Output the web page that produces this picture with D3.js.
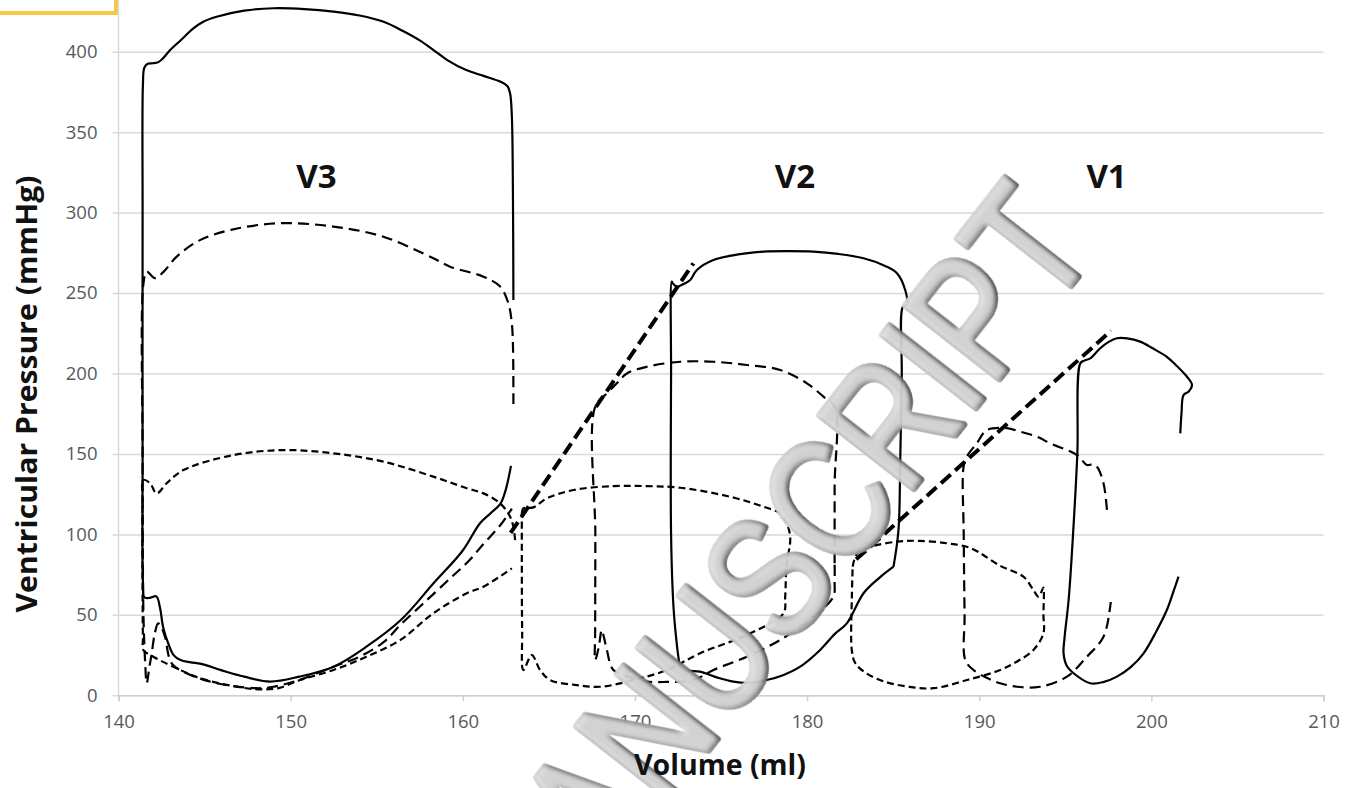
<!DOCTYPE html>
<html><head><meta charset="utf-8">
<script src="https://cdn.jsdelivr.net/npm/d3@7"></script>
<style>html,body{margin:0;padding:0;background:#fff;}svg{display:block;}</style>
</head><body>
<svg id="chart" width="1359" height="788"></svg>
<script>
// ---------- data (volume ml, pressure mmHg) ----------
const xTicks = [140,150,160,170,180,190,200,210];
const yTicks = [0,50,100,150,200,250,300,350,400];
const loopLabels = ["V3","V2","V1"];
const loopLabelPos = [[151.5,315.3],[179.3,315.3],[197.4,315.3]];

// V3 loops
const v3Solid = [[162.94,245.7],[162.92,300],[162.85,360],[162.75,374],[162.6,378.5],[162.2,381.3],[161.2,385],[160.2,388.6],[159.1,394.8],[158.3,401],[157.5,407],[156.5,413],[155.4,418.6],[154,422.5],[152.5,424.9],[150.8,426.5],[149,427],[147.3,425.5],[145.7,421.7],[144.9,418.5],[144.35,414.5],[143.6,407],[143,401],[142.5,395],[142.3,393.5],[142.0,392.8],[141.7,392.5],[141.5,390],[141.42,380],[141.4,300],[141.4,150],[141.42,70],[141.5,61],[141.8,60.5],[142.2,61.5],[142.4,55],[142.6,42],[142.9,32],[143.2,25],[143.6,21.9],[144.2,20.5],[144.8,19.5],[146,15.5],[147.3,11.6],[148.8,8.5],[150.5,11.6],[152.5,17.8],[154.4,30.2],[156.4,46.8],[158.3,69.6],[160,90],[161,106.9],[161.6,113],[162.2,119.3],[162.5,128],[162.8,142.6]];
const v3Long = [[162.94,181],[162.92,215],[162.85,231],[162.65,243.6],[162.17,254],[161.2,260.2],[159.26,266.4],[158.29,271.6],[155.39,285],[152.48,291.3],[149.4,293.4],[146.67,289.6],[144.73,282.9],[143.38,272.6],[142.6,263],[142.12,259.2],[141.64,263.3],[141.45,256],[141.4,150],[141.45,50],[141.55,20],[141.64,7.5],[141.8,18],[141.93,26],[142.1,38],[142.3,44.7],[142.5,42],[142.7,36.4],[143.09,19.9],[143.96,13.7],[145.7,7.5],[148.03,4.4],[149,5.3],[150.5,9.5],[152.48,17.8],[154,24],[155.4,33],[156.4,44],[157.8,58],[159.3,73],[160.3,83],[161.2,94],[162.2,106],[162.85,116]];
const v3Short = [[163.04,96.5],[162.95,104],[162.75,111],[162.17,119.3],[161.2,125.5],[160.23,128.7],[158.29,135.9],[155.39,145.2],[152.48,150.4],[149.58,152.4],[146.67,149.3],[143.77,140],[142.8,131.8],[142.22,125.5],[141.83,131.8],[141.44,133.8],[141.4,120],[141.4,60],[141.42,35],[141.44,28.2],[142.02,24],[143.38,16.8],[144.73,10.6],[147.06,5],[148.22,3.7],[149.3,4.5],[150.55,9.5],[152.48,15.7],[154.4,24],[156.36,34.3],[158.29,51],[160.23,63.4],[161.2,67.5],[162.85,78.9]];

// V2 loops
const v2Solid = [[185.02,79.9],[185.31,102.7],[185.41,144.2],[185.5,200],[185.57,241.5],[185.8,242.6],[185.7,251.9],[185.22,262.3],[184.5,267],[183.28,271.6],[181.8,274.3],[180.37,275.7],[178.9,276],[177.47,275.7],[176,274],[174.56,270.5],[173.6,264.3],[173.21,258.1],[172.8,255.5],[172.43,254],[172.2,256],[172.14,257.1],[172.1,200],[172.1,100],[172.24,55],[172.4,35],[172.55,22],[172.63,17.8],[173.0,15.5],[173.78,14.7],[174.8,11],[175.72,8.5],[176.7,7.8],[177.66,9.5],[178.6,12.5],[179.6,17.8],[180.76,28.2],[181.6,38],[182.31,44.7],[183.28,63.4],[184.2,73],[185.02,79.9]];
const v2Long = [[181.6,82],[181.6,130],[181.6,179.4],[180.95,185.6],[179.99,193.9],[178.44,202.2],[176.5,205.3],[174.56,207.3],[172.63,207.3],[170.69,204.2],[169.53,200],[168.95,193.9],[168.37,187.7],[167.69,179.4],[167.7,100],[167.69,40],[167.69,21.9],[167.9,30],[168.07,40.6],[168.2,36],[168.37,28.2],[168.75,15.7],[169.8,11],[170.69,8.5],[171.8,8.3],[173.4,9.5],[174.56,15.7],[176.5,24],[178.44,34.4],[180.37,48.9],[181.53,61.3],[181.6,70],[181.6,82]];
const v2Short = [[163.43,113.1],[163.52,116.2],[164.1,116.8],[164.88,122.4],[166.43,127.6],[168.75,130],[170.69,130],[172.63,129],[175.53,123.4],[177.47,117.2],[178.44,113.1],[178.73,109],[179.02,98.6],[178.8,80],[178.73,61.3],[178.63,51],[176.7,38.5],[173.79,26.1],[171.85,15.7],[169.92,9.5],[167.98,5.3],[166.5,6.5],[165.07,9.5],[164.49,15.7],[164.01,25],[163.52,15.7],[163.45,40],[163.43,80],[163.43,113.1]];

// V1 loops
const v1Solid = [[201.68,162.8],[201.75,175],[201.87,186.6],[202.16,188.7],[202.36,192.9],[202.07,198],[201.5,204.5],[200.9,210.4],[200.1,215.5],[199.35,219.8],[198.6,221.8],[198.0,221.9],[197.5,219.5],[197.03,215.7],[196.45,209.4],[196.1,208],[195.87,206.3],[195.7,150],[195.45,100],[195.2,60],[194.95,35],[194.9,26.1],[195.1,18],[195.48,13.7],[196.45,7.5],[197.2,8.2],[198.0,11.6],[198.8,17.5],[199.55,26.1],[200.3,40],[200.9,53],[201.3,65],[201.58,73.7]];
const v1Long = [[197.42,115.2],[197.22,131.8],[196.84,142.1],[196.6,143.5],[196.26,143.1],[195.68,149.3],[194.13,156.6],[193.35,160.7],[192.39,163.8],[191.61,166],[190.45,164.9],[189.86,156.6],[189.28,148.3],[189.09,142],[189.1,100],[189.15,50],[189.19,21.9],[189.67,15.7],[190.4,11],[191.22,7.5],[192.19,5.3],[193.53,5.3],[195.1,11.6],[196.26,24],[197.22,36.4],[197.61,55.1],[197.64,58]];
const v1Short = [[182.65,80],[182.9,88],[183.6,92],[185.22,95.5],[186.5,96],[188.12,94.5],[189.5,91.5],[191.22,80.5],[192.57,73.7],[193.15,65.4],[193.44,61.3],[193.6,64],[193.73,67],[193.73,50],[193.73,38.5],[193.15,28.2],[192.2,21],[191.22,15.7],[189.29,9.5],[187.35,4.4],[185.9,5.3],[184.5,8.5],[183.4,14],[182.8,20],[182.6,28],[182.6,60],[182.65,80]];

// end-systolic lines
const espvrA = [[162.78,101],[173.4,268.5]];
const espvrB = [[182.85,84.5],[197.65,226.5]];

const solidSeries = [v3Solid, v2Solid, v1Solid];
const longDashSeries = [v3Long, v2Long, v1Long];
const shortDashSeries = [v3Short, v2Short, v1Short];
const espvrSeries = [espvrA, espvrB];

// ---------- drawing ----------
const svg = d3.select("#chart");
const x = d3.scaleLinear().domain([140,210]).range([118.5,1323.5]);
const y = d3.scaleLinear().domain([0,400]).range([695.3,51.7]);
const grid = "#d9d9d9";
const tickFont = "'Open Sans', 'Liberation Sans', sans-serif";

// bevel filter for the watermark
const defs = svg.append("defs");
const f = defs.append("filter").attr("id","bevel").attr("x","-10%").attr("y","-10%").attr("width","120%").attr("height","120%");
f.append("feGaussianBlur").attr("in","SourceAlpha").attr("stdDeviation",3.5).attr("result","blur");
const dl = f.append("feDiffuseLighting").attr("in","blur").attr("surfaceScale",6)
  .attr("diffuseConstant",1).attr("lighting-color","#ffffff").attr("result","light");
dl.append("feDistantLight").attr("azimuth",225).attr("elevation",60);
f.append("feComposite").attr("in","SourceGraphic").attr("in2","light").attr("operator","arithmetic")
  .attr("k1",1).attr("k2",0).attr("k3",0).attr("k4",0).attr("result","shaded");
f.append("feComposite").attr("in","shaded").attr("in2","SourceAlpha").attr("operator","in");

// yellow frame fragment top-left
svg.append("rect").attr("x",-4).attr("y",-4).attr("width",120).attr("height",17)
  .attr("fill","#fff").attr("stroke","#f6c744").attr("stroke-width",4);

// y axis line
svg.append("line").attr("x1",x(140)).attr("x2",x(140)).attr("y1",0).attr("y2",y(0))
  .attr("stroke",grid).attr("stroke-width",1.5);

// horizontal gridlines via axis
const yAxis = d3.axisLeft(y).tickValues(yTicks).tickSize(-(x(210)-x(140))).tickPadding(15).tickFormat(d3.format("d"));
const gy = svg.append("g").attr("transform",`translate(${x(140)},0)`).call(yAxis);
gy.select(".domain").remove();
gy.selectAll(".tick line").attr("stroke",grid).attr("stroke-width",1.5).attr("x1",-6);
gy.selectAll(".tick text").attr("font-family",tickFont).attr("font-size",18.5).attr("fill","#595959").attr("x",-21);

// x axis
const xAxis = d3.axisBottom(x).tickValues(xTicks).tickSize(6).tickPadding(14).tickFormat(d3.format("d"));
const gx = svg.append("g").attr("transform",`translate(0,${y(0)})`).call(xAxis);
gx.select(".domain").attr("stroke","#cfcfcf").attr("stroke-width",1.5);
gx.selectAll(".tick line").attr("stroke","#cfcfcf").attr("stroke-width",1.5);
gx.selectAll(".tick text").attr("font-family",tickFont).attr("font-size",18.5).attr("fill","#595959");

const line = d3.line().x(d=>x(d[0])).y(d=>y(d[1])).curve(d3.curveCatmullRom.alpha(0.5));
const lineStraight = d3.line().x(d=>x(d[0])).y(d=>y(d[1]));

const lines = svg.append("g").attr("fill","none").attr("stroke","#000").attr("stroke-linejoin","round");
lines.selectAll(".solid").data(solidSeries).join("path").attr("class","solid")
  .attr("d",line).attr("stroke-width",2.2);
lines.selectAll(".longd").data(longDashSeries).join("path").attr("class","longd")
  .attr("d",line).attr("stroke-width",2.2).attr("stroke-dasharray","11,6");
lines.selectAll(".shortd").data(shortDashSeries).join("path").attr("class","shortd")
  .attr("d",line).attr("stroke-width",2.2).attr("stroke-dasharray","7,4");
lines.selectAll(".espvr").data(espvrSeries).join("path").attr("class","espvr")
  .attr("d",lineStraight).attr("stroke-width",4).attr("stroke-dasharray","13,6");

// loop labels
svg.selectAll(".vlab").data(loopLabels).join("text").attr("class","vlab")
  .attr("x",(d,i)=>x(loopLabelPos[i][0])).attr("y",(d,i)=>y(loopLabelPos[i][1]))
  .attr("text-anchor","middle").attr("font-family",tickFont).attr("font-weight","bold")
  .attr("font-size",33).attr("fill","#111").text(d=>d);

// watermark (drawn over the curves, as in the reference)
const wm = svg.append("g").attr("transform","translate(768,572) rotate(-52) scale(0.81,1)").attr("opacity",0.95);
wm.append("text").attr("x",0).attr("y",63).attr("text-anchor","middle")
  .attr("font-family","'Liberation Sans', Arial, sans-serif").attr("font-size",172)
  .attr("fill","#dedede").attr("stroke","#dedede").attr("stroke-width",7).attr("stroke-linejoin","round")
  .attr("filter","url(#bevel)").text("MANUSCRIPT");

// axis titles
svg.append("text").attr("x",720).attr("y",775).attr("text-anchor","middle")
  .attr("font-family",tickFont).attr("font-weight","bold").attr("font-size",28.5).attr("fill","#111")
  .attr("textLength",172).attr("lengthAdjust","spacingAndGlyphs")
  .text("Volume (ml)");
svg.append("text").attr("transform","translate(37,394) rotate(-90)").attr("text-anchor","middle")
  .attr("font-family",tickFont).attr("font-weight","bold").attr("font-size",28.5).attr("fill","#111")
  .attr("textLength",437).attr("lengthAdjust","spacingAndGlyphs")
  .text("Ventricular Pressure (mmHg)");
</script>
</body></html>
